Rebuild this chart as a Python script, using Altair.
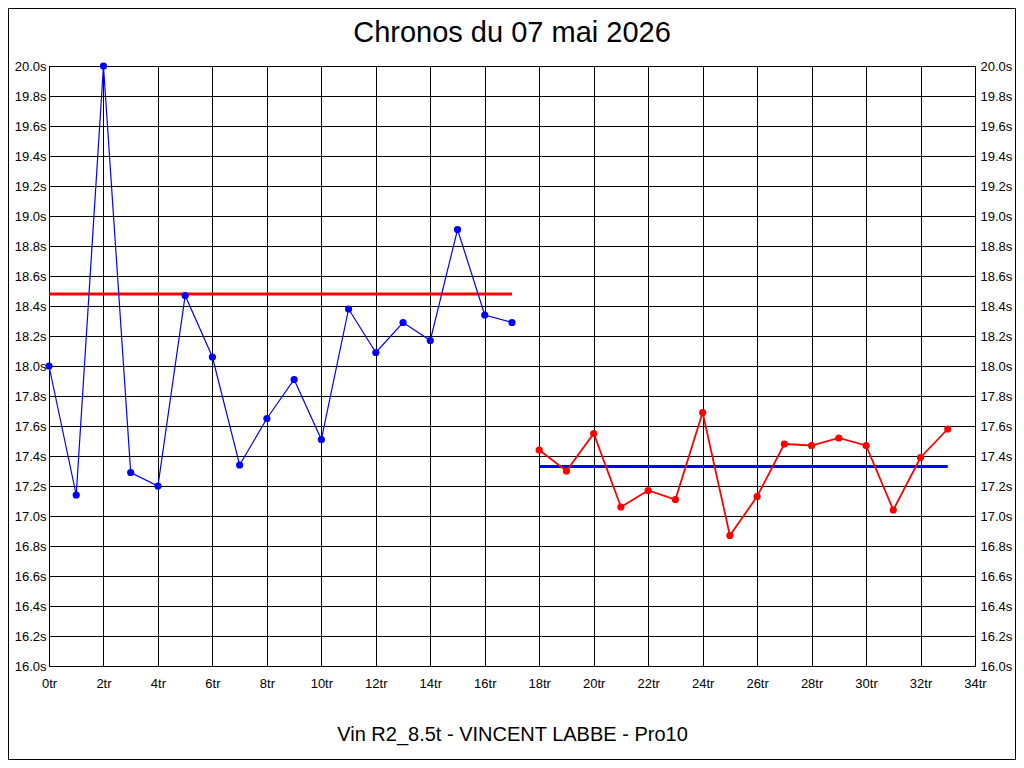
import altair as alt
import pandas as pd

laps = list(range(34))
times = [18.00, 17.14, 20.00, 17.29, 17.20, 18.47, 18.06, 17.34, 17.65, 17.91,
         17.51, 18.38, 18.09, 18.29, 18.17, 18.91, 18.34, 18.29,
         17.44, 17.30, 17.55, 17.06, 17.17, 17.11, 17.69, 16.87, 17.13, 17.48,
         17.47, 17.52, 17.47, 17.04, 17.39, 17.58]
series = ["A"] * 18 + ["B"] * 16
series_colors = ["#0000ff", "#ff0000"]

mean_series = ["A", "B"]
mean_values = [18.48, 17.33]
mean_start = [0, 18]
mean_end = [17, 33]
mean_colors = ["#ff0000", "#0000ff"]

x_ticks = list(range(0, 35, 2))
y_ticks = [round(16 + 0.2 * i, 1) for i in range(21)]

title_text = "Chronos du 07 mai 2026"
x_title = "Vin R2_8.5t - VINCENT LABBE - Pro10"

df = pd.DataFrame({"lap": laps, "time": times, "series": series})
mdf = pd.DataFrame({"series": mean_series, "mean": mean_values,
                    "start": mean_start, "end": mean_end})

FONT = "Liberation Sans"
LFONT = "Liberation Sans"

xs = alt.Scale(domain=[0, 34], nice=False, zero=False)
ys = alt.Scale(domain=[16, 20], nice=False, zero=False)

x_axis = alt.Axis(values=x_ticks, labelExpr="datum.value + 'tr'", title=x_title,
                  grid=True, gridColor="black", gridOpacity=1, gridWidth=1,
                  domainColor="black", tickSize=0, labelPadding=11, labelFlush=False,
                  labelFont=LFONT, labelFontSize=13, labelColor="black",
                  titleFont=FONT, titleFontSize=20, titleFontWeight="normal",
                  titleColor="black", titlePadding=34)
y_left = alt.Axis(values=y_ticks, labelExpr="format(datum.value, '.1f') + 's'", title=None,
                  grid=True, gridColor="black", gridOpacity=1, gridWidth=1,
                  domainColor="black", tickSize=0, labelPadding=3, labelFlush=False,
                  labelFont=LFONT, labelFontSize=13, labelColor="black", orient="left")
y_right = alt.Axis(values=y_ticks, labelExpr="format(datum.value, '.1f') + 's'", title=None,
                   grid=False, domainColor="black", tickSize=0, labelPadding=5, labelFlush=False,
                   labelFont=LFONT, labelFontSize=13, labelColor="black", orient="right")

frame = alt.Chart(pd.DataFrame({"k": [0]})).mark_rect(
    fill=None, stroke="black", strokeWidth=1
).encode(x=alt.value(-40.5), x2=alt.value(966.5), y=alt.value(-57.5), y2=alt.value(693.5))

means = alt.Chart(mdf).mark_rule(strokeWidth=3).encode(
    x=alt.X("start:Q", scale=xs, axis=x_axis),
    x2="end:Q",
    y=alt.Y("mean:Q", scale=ys, axis=y_left),
    color=alt.Color("series:N", scale=alt.Scale(domain=mean_series, range=mean_colors), legend=None),
)

line_a = alt.Chart(df[df.series == "A"]).mark_line(strokeWidth=1.2, color=series_colors[0]).encode(
    x=alt.X("lap:Q", scale=xs),
    y=alt.Y("time:Q", scale=ys, axis=y_right),
)
line_b = alt.Chart(df[df.series == "B"]).mark_line(strokeWidth=1.8, color=series_colors[1]).encode(
    x=alt.X("lap:Q", scale=xs),
    y=alt.Y("time:Q", scale=ys, axis=None),
)
pts = alt.Chart(df).mark_point(filled=True, size=52, opacity=1).encode(
    x=alt.X("lap:Q", scale=xs),
    y=alt.Y("time:Q", scale=ys, axis=None),
    color=alt.Color("series:N", scale=alt.Scale(domain=["A", "B"], range=series_colors), legend=None),
)

chart = alt.layer(frame, means, line_a, line_b, pts).resolve_scale(
    color="independent"
).resolve_axis(y="independent").properties(
    width=926, height=600,
    padding={"left": 41, "top": 58, "right": 41, "bottom": 94},
    autosize=alt.AutoSizeParams(type="none"),
    title=alt.TitleParams(title_text, font=FONT, fontSize=29, fontWeight="normal",
                          color="black", anchor="middle", frame="group",
                          baseline="alphabetic", offset=0, dy=63),
    background="white",
).configure_view(stroke="black", strokeWidth=1)

chart.save("out.html", embed_options={"renderer": "svg", "actions": False})
